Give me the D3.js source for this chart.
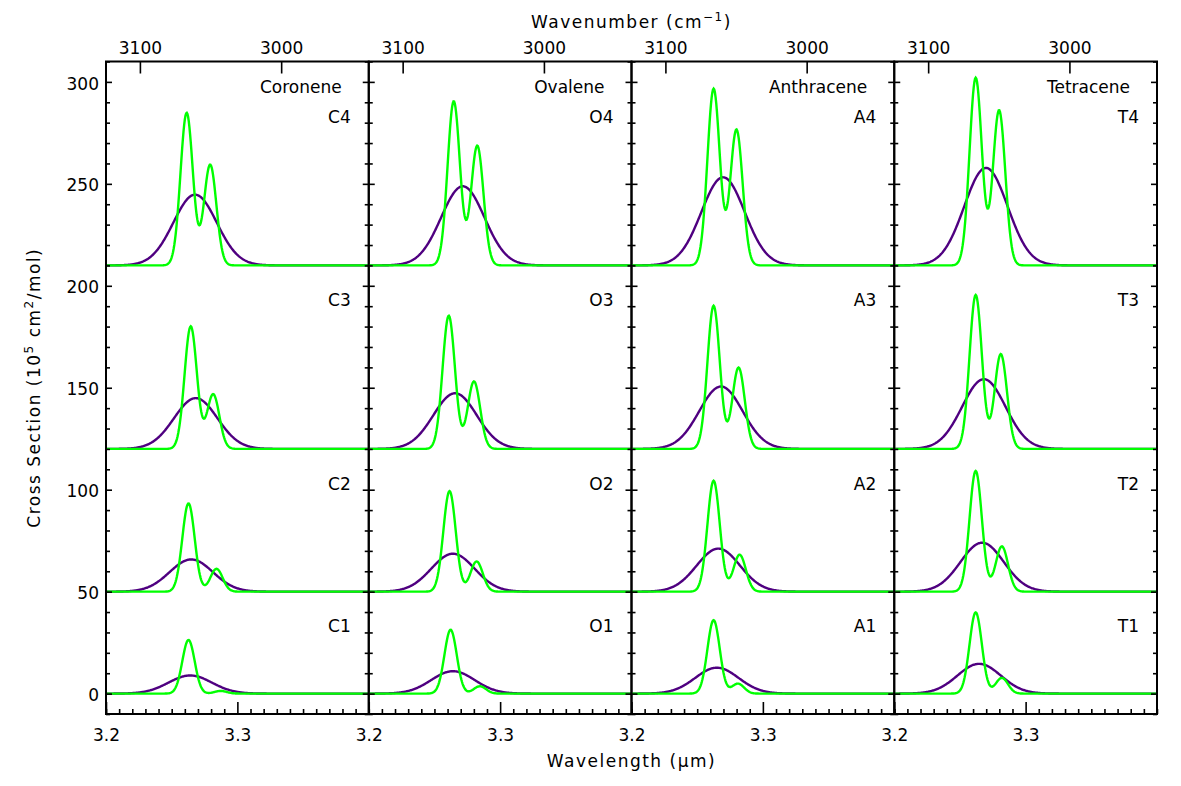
<!DOCTYPE html>
<html>
<head>
<meta charset="utf-8">
<script src="https://cdn.jsdelivr.net/npm/d3@7"></script>
<style>
  body { margin: 0; background: #fff; }
  svg text { font-family: "DejaVu Sans", sans-serif; font-size: 17px; fill: #000; }
</style>
</head>
<body>
<svg id="chart" width="1181" height="786"></svg>
<script>
// molecules (columns) and row tags
const molecules = ["Coronene", "Ovalene", "Anthracene", "Tetracene"];
const tags = ["C", "O", "A", "T"];
const rowBaselines = [0, 50, 120, 210]; // rows 1..4, vertical offsets
const tagLevels = [30, 100, 190, 280];   // where the C1..C4 tags sit

// green spectra: bands [wavelength (µm), peak above baseline], rows 1..4
const coroneneNarrow = [
  [[3.2628, 26.3], [3.2872, 1.3]],
  [[3.2628, 43.3], [3.2841, 11.2]],
  [[3.2645, 60.1], [3.2816, 26.8]],
  [[3.2614, 74.8], [3.2793, 49.4]]
];
const ovaleneNarrow = [
  [[3.2623, 31.3], [3.2846, 3.6]],
  [[3.2615, 49.3], [3.2821, 14.8]],
  [[3.2609, 65.3], [3.2801, 33.1]],
  [[3.2647, 80.5], [3.2826, 58.7]]
];
const anthraceneNarrow = [
  [[3.2625, 36.0], [3.2810, 4.9]],
  [[3.2625, 54.4], [3.2823, 18.1]],
  [[3.2625, 70.2], [3.2815, 39.9]],
  [[3.2625, 86.6], [3.2799, 66.6]]
];
const tetraceneNarrow = [
  [[3.2620, 39.8], [3.2819, 7.7]],
  [[3.2620, 59.2], [3.2819, 22.2]],
  [[3.2620, 75.5], [3.2811, 46.5]],
  [[3.2620, 92.0], [3.2798, 76.1]]
];

// purple spectra: one broad band [wavelength (µm), peak above baseline], rows 1..4
const coroneneBroad = [[3.2641, 8.9], [3.2649, 15.8], [3.2683, 24.9], [3.2678, 34.7]];
const ovaleneBroad = [[3.2641, 11.0], [3.2641, 18.6], [3.2657, 27.3], [3.2716, 38.8]];
const anthraceneBroad = [[3.2650, 12.7], [3.2661, 21.1], [3.2681, 30.6], [3.2697, 43.2]];
const tetraceneBroad = [[3.2646, 14.6], [3.2669, 24.0], [3.2682, 34.2], [3.2698, 47.8]];

const narrowSigma = 0.0047; // µm
const broadSigma = 0.0165;  // µm

// axis ticks
const xMajorTicks = [3.2, 3.3];
const wavenumberTicks = [3100, 3000];
const yMajorTicks = [0, 50, 100, 150, 200, 250, 300];

const narrowSets = [coroneneNarrow, ovaleneNarrow, anthraceneNarrow, tetraceneNarrow];
const broadSets = [coroneneBroad, ovaleneBroad, anthraceneBroad, tetraceneBroad];

// layout
const plotLeft = 106, plotTop = 61.5, panelW = 262.75, plotH = 652.5;
const green = "#00ff00", purple = "#4f0080";

const svg = d3.select("#chart");

const y = d3.scaleLinear().domain([-10, 310]).range([plotTop + plotH, plotTop]);
const grid = d3.range(3.2, 3.4 + 1e-9, 0.0005);
const yMinor = d3.range(-10, 311, 10).filter((v) => v % 50 !== 0);
const xMinor = d3.range(0, 21).map((i) => 3.2 + i * 0.01).filter((v) => Math.abs(v - 3.3) > 1e-6);

// sum of gaussian bands on a baseline
function spectrum(bands, sigma, base) {
  return grid.map((l) => [
    l,
    base + d3.sum(bands, ([c, h]) => h * Math.exp(-((l - c) ** 2) / (2 * sigma * sigma)))
  ]);
}

molecules.forEach((name, p) => {
  const x0 = plotLeft + p * panelW;
  const x = d3.scaleLinear().domain([3.2, 3.4]).range([x0, x0 + panelW]);
  const g = svg.append("g");

  g.append("clipPath").attr("id", "clip" + p)
    .append("rect").attr("x", x0).attr("y", plotTop).attr("width", panelW).attr("height", plotH);

  const line = d3.line().x((d) => x(d[0])).y((d) => y(d[1]));
  const curves = g.append("g").attr("clip-path", `url(#clip${p})`);

  rowBaselines.forEach((base, r) => {
    const [bc, bh] = broadSets[p][r];
    curves.append("path")
      .attr("d", line(spectrum([[bc, bh]], broadSigma, base)))
      .attr("fill", "none").attr("stroke", purple).attr("stroke-width", 2.4);
  });
  rowBaselines.forEach((base, r) => {
    curves.append("path")
      .attr("d", line(spectrum(narrowSets[p][r], narrowSigma, base)))
      .attr("fill", "none").attr("stroke", green).attr("stroke-width", 2.4);
  });

  // bottom axis (wavelength) - minor and major in separate groups
  g.append("g").attr("transform", `translate(0,${plotTop + plotH})`)
    .call(d3.axisBottom(x).tickValues(xMinor).tickSize(-5).tickFormat(""));
  g.append("g").attr("transform", `translate(0,${plotTop + plotH})`)
    .call(d3.axisBottom(x).tickValues(xMajorTicks).tickSize(-12).tickPadding(15).tickFormat(d3.format(".1f")));

  // top axis (wavenumber)
  g.append("g").attr("transform", `translate(0,${plotTop})`)
    .call(d3.axisTop(x).tickValues(wavenumberTicks.map((w) => 1e4 / w)).tickSize(-12).tickPadding(8)
      .tickFormat((d) => Math.round(1e4 / d)));

  // left / right axes, ticks pointing inward
  g.append("g").attr("transform", `translate(${x0},0)`)
    .call(d3.axisLeft(y).tickValues(yMinor).tickSize(-4).tickFormat(""));
  const la = g.append("g").attr("transform", `translate(${x0},0)`)
    .call(d3.axisLeft(y).tickValues(yMajorTicks).tickSize(-6).tickPadding(7)
      .tickFormat(p === 0 ? d3.format("d") : ""));
  la.selectAll(".tick text").attr("dy", "0.42em");

  g.append("g").attr("transform", `translate(${x0 + panelW},0)`)
    .call(d3.axisRight(y).tickValues(yMinor).tickSize(-4).tickFormat(""));
  g.append("g").attr("transform", `translate(${x0 + panelW},0)`)
    .call(d3.axisRight(y).tickValues(yMajorTicks).tickSize(-6).tickFormat(""));

  g.selectAll(".domain").remove();
  g.selectAll(".tick line").attr("stroke", "#000").attr("stroke-width", 1.6);
  g.selectAll(".tick text").attr("font-family", "DejaVu Sans").attr("font-size", 17).attr("fill", "#000");

  // frame
  g.append("rect").attr("x", x0).attr("y", plotTop).attr("width", panelW).attr("height", plotH)
    .attr("fill", "none").attr("stroke", "#000").attr("stroke-width", 2);

  // labels
  g.append("text").attr("x", x0 + panelW - 27).attr("y", 93)
    .attr("text-anchor", "end").text(name);
  tagLevels.forEach((lv, r) => {
    g.append("text").attr("x", x0 + panelW - 18).attr("y", y(lv))
      .attr("text-anchor", "end").text(tags[p] + (r + 1));
  });
});

// axis titles
const cx = plotLeft + 2 * panelW;
const topTitle = svg.append("text").attr("x", cx).attr("y", 28).attr("text-anchor", "middle")
  .attr("font-size", 18).attr("letter-spacing", 1.5);
topTitle.append("tspan").text("Wavenumber (cm");
topTitle.append("tspan").attr("dy", -7).attr("font-size", 12).text("\u22121");
topTitle.append("tspan").attr("dy", 7).text(")");

svg.append("text").attr("x", cx).attr("y", 767).attr("text-anchor", "middle")
  .attr("font-size", 18).attr("letter-spacing", 1.5).text("Wavelength (\u03bcm)");

const yTitle = svg.append("text")
  .attr("transform", `translate(40,${plotTop + plotH / 2}) rotate(-90)`)
  .attr("text-anchor", "middle").attr("font-size", 18).attr("letter-spacing", 1.5);
yTitle.append("tspan").text("Cross Section (10");
yTitle.append("tspan").attr("dy", -7).attr("font-size", 12).text("5");
yTitle.append("tspan").attr("dy", 7).text(" cm");
yTitle.append("tspan").attr("dy", -7).attr("font-size", 12).text("2");
yTitle.append("tspan").attr("dy", 7).text("/mol)");
</script>
</body>
</html>
